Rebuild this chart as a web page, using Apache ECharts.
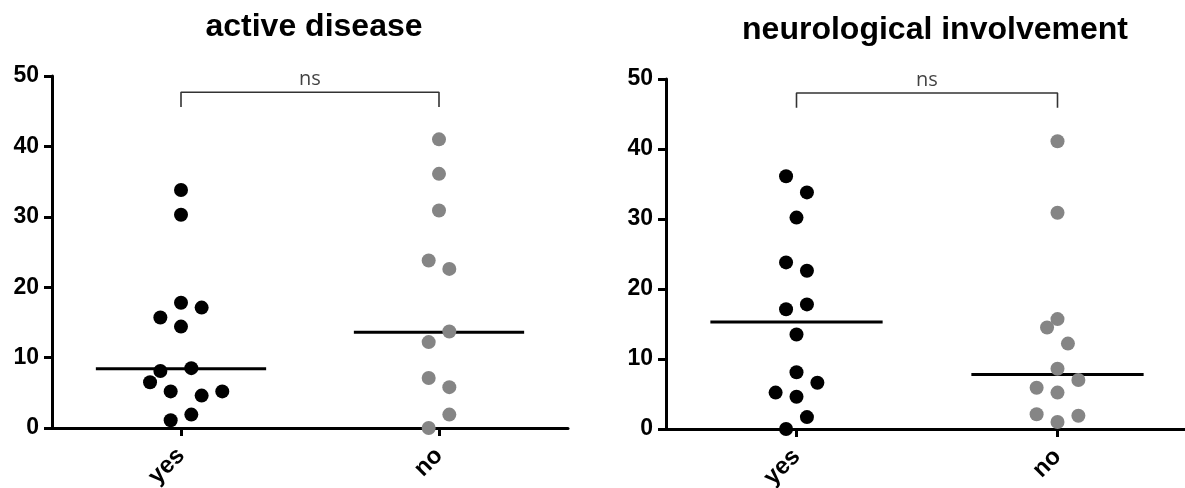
<!DOCTYPE html>
<html>
<head>
<meta charset="utf-8">
<script src="https://cdn.jsdelivr.net/npm/echarts@6/dist/echarts.min.js"></script>
<style>
html,body{margin:0;padding:0;background:#fff;}
#chart{width:1185px;height:488px;}
</style>
</head>
<body>
<div id="chart"></div>
<script>
// ---- data ----
const categories = ['yes', 'no'];
const panelTitles = ['active disease', 'neurological involvement'];
const sigLabels = ['ns', 'ns'];
const bracketLevels = [47.7, 48.0];

const activeYesValues = [33.8, 30.3, 17.8, 17.1, 15.7, 14.4, 8.5, 8.1, 6.5, 5.2, 4.6, 5.2, 1.9, 1.1];
const activeYesSlots  = [0, 0, 0, 2, -2, 0, 1, -2, -3, -1, 2, 4, 1, -1];
const activeNoValues  = [41.0, 36.1, 30.9, 23.8, 22.6, 13.7, 12.2, 7.1, 5.8, 1.9, 0.0];
const activeNoSlots   = [0, 0, 0, -1, 1, 1, -1, -1, 1, 1, -1];
const activeMedians   = [8.4, 13.6];

const neuroYesValues = [36.1, 33.8, 30.2, 23.8, 22.6, 17.8, 17.1, 13.5, 8.1, 6.6, 5.2, 4.6, 1.7, 0.0];
const neuroYesSlots  = [-1, 1, 0, -1, 1, 1, -1, 0, 0, 2, -2, 0, 1, -1];
const neuroNoValues  = [41.1, 30.9, 15.7, 14.5, 12.2, 8.6, 7.0, 5.9, 5.2, 2.1, 1.9, 1.0];
const neuroNoSlots   = [0, 0, 0, -1, 1, 0, 2, -2, 0, -2, 2, 0];
const neuroMedians   = [15.3, 7.8];

// ---- layout / style constants ----
const SLOT = 0.04;          // horizontal spacing of jittered dots (category units)
const HALF = 0.33;          // half-width of median line
const DROP = 2.1;           // bracket leg length (value units)
const BOLD = 'Liberation Sans, Arial, sans-serif';
const groupColors = ['#000000', '#858585'];

const panels = [
  { groups: [[activeYesValues, activeYesSlots], [activeNoValues, activeNoSlots]], medians: activeMedians },
  { groups: [[neuroYesValues, neuroYesSlots], [neuroNoValues, neuroNoSlots]], medians: neuroMedians }
];

const grids = [
  { left: 52, top: 76, width: 516, height: 352, containLabel: false, outerBoundsMode: 'none' },
  { left: 666, top: 79, width: 522, height: 350, containLabel: false, outerBoundsMode: 'none' }
];
const titleCenters = [309, 930];
const titleTops = [6, 9];

const xAxes = [], yAxes = [], series = [], titles = [];
panels.forEach((p, pi) => {
  titles.push({
    text: panelTitles[pi], left: titleCenters[pi], top: titleTops[pi], textAlign: 'center',
    textStyle: { fontSize: 32, fontWeight: 'bold', fontFamily: BOLD, color: '#000' }
  });
  xAxes.push({
    type: 'category', gridIndex: pi, data: categories, boundaryGap: true,
    axisLine: { show: true, lineStyle: { color: '#000', width: 3 } },
    axisTick: { show: true, alignWithLabel: true, length: 8, lineStyle: { color: '#000', width: 3 } },
    axisLabel: { rotate: 45, fontSize: 24, fontWeight: 'bold', fontFamily: BOLD, color: '#000', margin: 24 },
    splitLine: { show: false }
  });
  xAxes.push({ type: 'value', gridIndex: pi, min: -0.5, max: 1.5, show: false, splitLine: { show: false } });
  yAxes.push({
    type: 'value', gridIndex: pi, min: 0, max: 50, interval: 10,
    axisLine: { show: true, onZero: false, lineStyle: { color: '#000', width: 3 } },
    axisTick: { show: true, length: 8, lineStyle: { color: '#000', width: 3 } },
    axisLabel: { fontSize: 23, fontWeight: 'bold', fontFamily: BOLD, color: '#000', margin: 13 },
    splitLine: { show: false }
  });
  const xi = pi * 2 + 1;
  // median lines
  p.medians.forEach((m, ci) => {
    series.push({
      type: 'line', xAxisIndex: xi, yAxisIndex: pi, z: 1, silent: true,
      showSymbol: false, symbol: 'none',
      lineStyle: { color: '#000', width: 3 },
      data: [[ci - HALF, m], [ci + HALF, m]]
    });
  });
  // dots
  p.groups.forEach((g, ci) => {
    const [vals, slots] = g;
    series.push({
      type: 'scatter', xAxisIndex: xi, yAxisIndex: pi, z: 3,
      symbol: 'circle', symbolSize: 14,
      itemStyle: { color: groupColors[ci], opacity: 1 },
      data: vals.map((v, i) => [ci + slots[i] * SLOT, v])
    });
  });
  // significance bracket
  const b = bracketLevels[pi];
  series.push({
    type: 'line', xAxisIndex: xi, yAxisIndex: pi, z: 2, silent: true,
    showSymbol: false, symbol: 'none',
    lineStyle: { color: '#333', width: 1.6 },
    data: [[0, b - DROP], [0, b], [1, b], [1, b - DROP]]
  });
  series.push({
    type: 'scatter', xAxisIndex: xi, yAxisIndex: pi, z: 2, silent: true,
    symbolSize: 0,
    label: { show: true, position: 'top', distance: 3, formatter: sigLabels[pi],
      fontSize: 20, fontFamily: 'Open Sans, sans-serif', color: '#111' },
    data: [[0.5, b]]
  });
});

const chart = echarts.init(document.getElementById('chart'), null, { renderer: 'canvas' });
chart.setOption({
  animation: false,
  backgroundColor: '#fff',
  title: titles,
  grid: grids,
  xAxis: xAxes,
  yAxis: yAxes,
  series: series
});
</script>
</body>
</html>
